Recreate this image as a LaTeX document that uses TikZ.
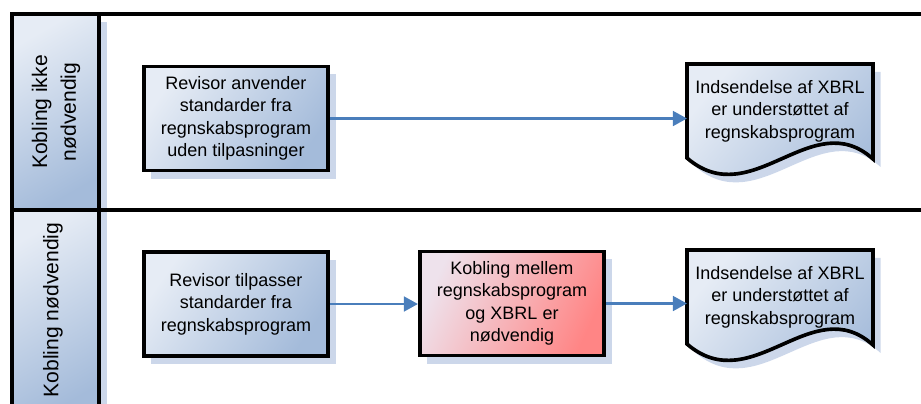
\documentclass[tikz,border=0pt]{standalone}
\usepackage{fontspec}
\setmainfont{Liberation Sans}
\usetikzlibrary{arrows.meta, positioning, shadows, backgrounds}
\definecolor{boxlight}{HTML}{E6ECF5}
\definecolor{boxdark}{HTML}{A4BBDA}
\definecolor{redlight}{HTML}{EEE2EC}
\definecolor{redmid}{HTML}{F9A6AC}
\definecolor{reddark}{HTML}{FF8585}
\definecolor{arrowblue}{HTML}{4A7EBB}
\definecolor{shadowblue}{HTML}{CCD7EA}

\tikzset{
  flatshadow/.style={drop shadow={shadow xshift=0.19cm, shadow yshift=-0.2cm, fill=shadowblue, opacity=1}},
  procbox/.style={draw=black, line width=2.6pt, top color=boxlight, bottom color=boxdark,
    shading angle=55, flatshadow, minimum width=4.61cm, minimum height=2.6cm,
    align=center, font=\fontsize{12.8}{16}\selectfont},
  redbox/.style={procbox, top color=redlight, middle color=redmid, bottom color=reddark, shading angle=65},
  docbox/.style={draw=black, line width=2.6pt, top color=boxlight, bottom color=boxdark,
    shading angle=50, flatshadow},
  doctext/.style={minimum width=4.65cm, minimum height=2.35cm, outer sep=0pt,
    align=center, font=\fontsize{12.8}{16}\selectfont},
  lanehead/.style={top color=boxlight, bottom color=boxdark, shading angle=30, flatshadow},
  lanetext/.style={rotate=90, align=center, font=\fontsize{15}{20.5}\selectfont},
  laneline/.style={line width=2.6pt},
  flowarrow/.style={draw=arrowblue, line width=1.8pt, -{Triangle[length=10pt, width=10.5pt]}}
}

\begin{document}
\begin{tikzpicture}[x=0.025cm, y=-0.025cm]
\useasboundingbox (0,0) rectangle (921,403);

% Lane headers
\path[lanehead] (12,14) rectangle (99,210);
\path[lanehead] (12,210) rectangle (99,420);
\node[lanetext] (lane1) at (56,112) {Kobling ikke\\nødvendig};
\node[lanetext] (lane2) at (53,310) {Kobling nødvendig};

% Lane lines
\draw[laneline] (12,420) -- (12,14) -- (921,14);
\draw[laneline] (99,14) -- (99,420);
\draw[laneline] (12,210) -- (921,210);

% Upper lane
\node[procbox] (box1) at (236,118.5) {Revisor anvender\\standarder fra\\regnskabsprogram\\uden tilpasninger};
\node[doctext] (doc1) at (780,111) {Indsendelse af XBRL\\er understøttet af\\regnskabsprogram};

% Lower lane
\node[procbox] (box2) at (236,304) {Revisor tilpasser\\standarder fra\\regnskabsprogram};
\node[redbox] (box3) at (512,303.5) {Kobling mellem\\regnskabsprogram\\og XBRL er\\nødvendig};
\node[doctext] (doc2) at (780,297) {Indsendelse af XBRL\\er understøttet af\\regnskabsprogram};

% Document shapes behind the text
\begin{pgfonlayer}{background}
\foreach \d in {doc1,doc2} {
  \draw[docbox, shift={(\d.north west)}] (0,0) -- (186,0) -- (186,95)
    .. controls (125,40) and (65,150) .. (0,94) -- cycle;
}
\end{pgfonlayer}

% Arrows
\draw[flowarrow] (box1.east) -- (box1.east -| doc1.west);
\draw[flowarrow] (box2.east) -- (box2.east -| box3.west);
\draw[flowarrow] (box3.east) -- (box3.east -| doc2.west);

\end{tikzpicture}
\end{document}
